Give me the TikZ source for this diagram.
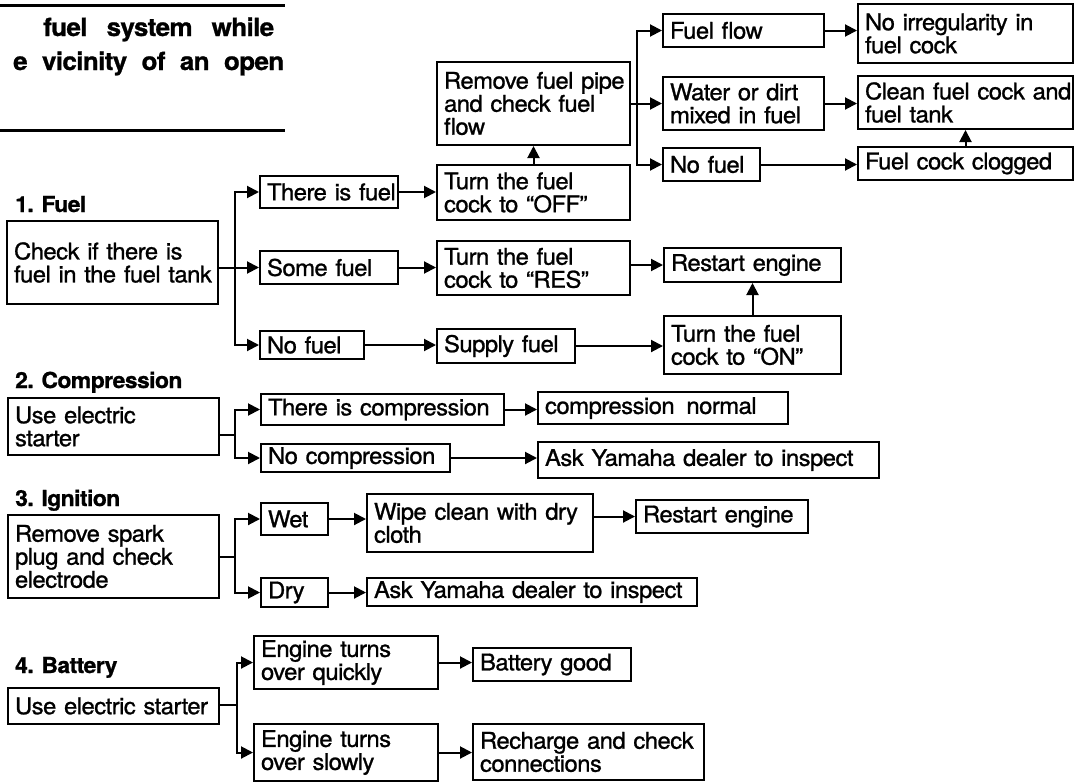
\documentclass[tikz,border=0pt]{standalone}
\usepackage{fontspec}
\setmainfont{TeX Gyre Heros}[FakeStretch=1.04, FakeBold=1.0, LetterSpace=-2.5]
\usetikzlibrary{arrows.meta}

\begin{document}
\begin{tikzpicture}[
    x=1pt, y=-1pt,
    boxnode/.style 2 args={
      rectangle, draw=black, line width=2pt, anchor=north west,
      inner xsep=7pt, inner ysep=0pt,
      minimum width=#1, minimum height=#2,
      /utils/exec={\pgfmathsetlengthmacro\boxtw{#1-14}}, text width=\boxtw,
      font=\fontsize{23pt}{23pt}\selectfont,
      execute at begin node={\parindent=0pt\leftskip=0pt\rightskip=0pt plus 1fil minus 40pt\relax}
    },
    headlbl/.style={anchor=base west, inner sep=0pt, font=\fontsize{22pt}{23pt}\selectfont\bfseries},
    warnline/.style={anchor=base west, inner sep=0pt, font=\fontsize{25pt}{26pt}\selectfont\bfseries},
    flowarr/.style={-{Triangle[length=12pt,width=12pt]}, line width=2pt},
    flowline/.style={line width=2pt}
  ]
  \useasboundingbox (0,0) rectangle (1079,782);

  % warning text cut from the page above
  \draw[line width=3pt] (0,5) -- (285,5);
  \draw[line width=3pt] (0,130) -- (285,130);
  \node[warnline] (warn1) at (43,36) {\makebox[231pt][s]{fuel system while}};
  \node[warnline] (warn2) at (13,70) {\makebox[271pt][s]{e vicinity of an open}};

  % 1. Fuel
  \node[headlbl] (h1) at (15,212) {1. Fuel};
  \node[boxnode={211}{83}] (fchk) at (6,220) {Check if there is\\fuel in the fuel tank};
  \node[boxnode={138}{32}] (fyes) at (259,175) {There is fuel};
  \node[boxnode={138}{33}] (fsome) at (259,250) {Some fuel};
  \node[boxnode={104}{28}] (fnone) at (259,330) {No fuel};
  \node[boxnode={193}{55}] (foff) at (436,164) {Turn the fuel\\cock to “OFF”};
  \node[boxnode={193}{54}] (fres) at (436,240) {Turn the fuel\\cock to “RES”};
  \node[boxnode={138}{34}] (fsup) at (436,328) {Supply fuel};
  \node[boxnode={177}{34}] (frst) at (663,247) {Restart engine};
  \node[boxnode={177}{58}] (fon) at (663,315) {Turn the fuel\\cock to “ON”};
  \node[boxnode={193}{83}] (fpipe) at (436,61) {Remove fuel pipe\\and check fuel\\flow};
  \node[boxnode={161}{33}] (fflow) at (662,13) {Fuel flow};
  \node[boxnode={161}{53}] (fdirt) at (662,76) {Water or dirt\\mixed in fuel};
  \node[boxnode={97}{33}] (fempty) at (662,147) {No fuel};
  \node[boxnode={215}{59}] (fokay) at (857,3) {No irregularity in\\fuel cock};
  \node[boxnode={215}{53}] (fclean) at (857,75) {Clean fuel cock and\\fuel tank};
  \node[boxnode={215}{33}] (fclog) at (857,146) {Fuel cock clogged};

  \coordinate (fjn) at (235,266);
  \coordinate (pjn) at (637,103);
  \draw[flowarr] (fchk.east |- fsome) -- (fsome);
  \draw[flowarr] (fjn) |- (fyes);
  \draw[flowarr] (fjn) |- (fnone);
  \draw[flowarr] (fyes) -- (fyes -| foff.west);
  \draw[flowarr] (fsome) -- (fsome -| fres.west);
  \draw[flowarr] (fnone) -- (fnone -| fsup.west);
  \draw[flowarr] (foff) -- (fpipe);
  \draw[flowarr] (fpipe.east |- fdirt) -- (fdirt);
  \draw[flowarr] (pjn) |- (fflow);
  \draw[flowarr] (pjn) |- (fempty);
  \draw[flowarr] (fflow) -- (fflow -| fokay.west);
  \draw[flowarr] (fdirt) -- (fdirt -| fclean.west);
  \draw[flowarr] (fempty) -- (fempty -| fclog.west);
  \draw[flowarr] (fclog) -- (fclean);
  \draw[flowarr] (fres.east |- frst) -- (frst);
  \draw[flowarr] (fsup) -- (fsup -| fon.west);
  \draw[flowarr] (fon) -- (frst);

  % 2. Compression
  \node[headlbl] (h2) at (15,388) {2. Compression};
  \node[boxnode={211}{57}] (cchk) at (7,397) {Use electric\\starter};
  \node[boxnode={243}{31}] (cyes) at (260,393) {There is compression};
  \node[boxnode={189}{28}] (cno) at (260,443) {No compression};
  \node[boxnode={250}{32}] (cnorm) at (537,391) {compression\hspace{4pt} normal};
  \node[boxnode={341}{36}] (cask) at (537,441) {Ask Yamaha dealer to inspect};

  \coordinate (cjn) at (235,435);
  \draw[flowline] (cchk.east |- cjn) -- (cjn);
  \draw[flowarr] (cjn) |- (cyes);
  \draw[flowarr] (cjn) |- (cno);
  \draw[flowarr] (cyes) -- (cyes -| cnorm.west);
  \draw[flowarr] (cno) -- (cno -| cask.west);

  % 3. Ignition
  \node[headlbl] (h3) at (15,506) {3. Ignition};
  \node[boxnode={211}{83}] (ichk) at (7,514) {Remove spark\\plug and check\\electrode};
  \node[boxnode={67}{32}] (iwet) at (260,502) {Wet};
  \node[boxnode={67}{29}] (idry) at (260,577) {Dry};
  \node[boxnode={226}{58}] (iwipe) at (366,493) {Wipe clean with dry\\cloth};
  \node[boxnode={172}{33}] (irst) at (635,499) {Restart engine};
  \node[boxnode={330}{28}] (iask) at (366,577) {Ask Yamaha dealer to inspect};

  \coordinate (ijn) at (235,557);
  \draw[flowline] (ichk.east |- ijn) -- (ijn);
  \draw[flowarr] (ijn) |- (iwet);
  \draw[flowarr] (ijn) |- (idry);
  \draw[flowarr] (iwet) -- (iwet -| iwipe.west);
  \draw[flowarr] (iwipe.east |- irst) -- (irst);
  \draw[flowarr] (idry) -- (idry -| iask.west);

  % 4. Battery
  \node[headlbl] (h4) at (15,673) {4. Battery};
  \node[boxnode={211}{36}] (bchk) at (7,687) {Use electric starter};
  \node[boxnode={184}{53}] (bfast) at (253,635) {Engine turns\\over quickly};
  \node[boxnode={184}{57}] (bslow) at (253,723) {Engine turns\\over slowly};
  \node[boxnode={158}{33}] (bgood) at (472,647) {Battery good};
  \node[boxnode={231}{56}] (bchg) at (472,723) {Recharge and check\\connections};

  \coordinate (bjn) at (237,705);
  \draw[flowline] (bchk.east |- bjn) -- (bjn);
  \draw[flowarr] (bjn) |- (bfast);
  \draw[flowarr] (bjn) |- (bslow);
  \draw[flowarr] (bfast) -- (bfast -| bgood.west);
  \draw[flowarr] (bslow) -- (bslow -| bchg.west);
\end{tikzpicture}
\end{document}
